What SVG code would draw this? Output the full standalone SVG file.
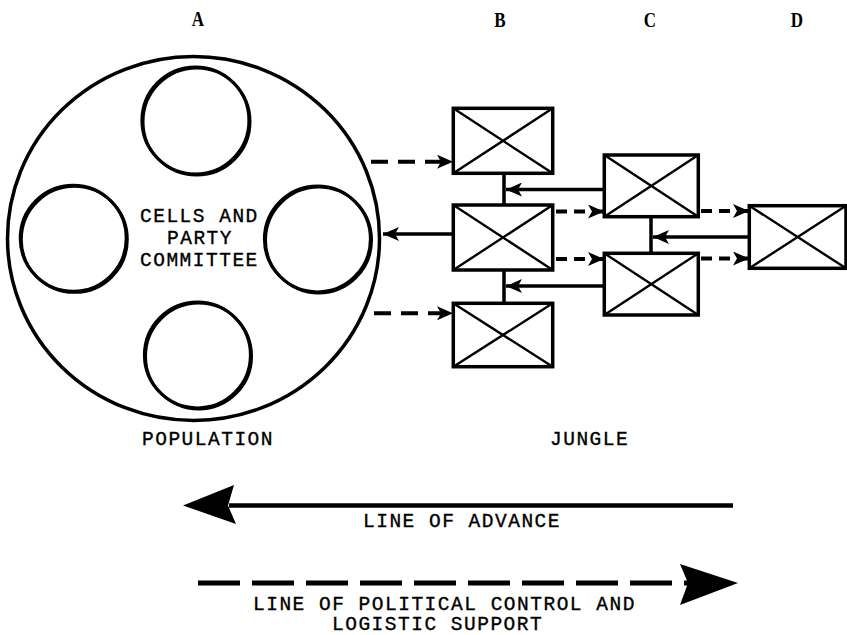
<svg xmlns="http://www.w3.org/2000/svg" width="847" height="635" viewBox="0 0 847 635">
  <style>
    .bg { fill: #fff; }
    .ring { fill: none; stroke: #000; stroke-width: 3.5; }
    .cell { fill: none; stroke: #000; stroke-width: 3.2; }
    .cell-sh { fill: none; stroke: #000; stroke-width: 2.6; }
    .box { fill: #fff; stroke: #000; stroke-width: 3.5; }
    .x { stroke: #000; stroke-width: 2.4; }
    .solid { fill: none; stroke: #000; stroke-width: 3.5; }
    .dash { fill: none; stroke: #000; stroke-width: 4; stroke-dasharray: 17 10; }
    .dash-s { fill: none; stroke: #000; stroke-width: 4; stroke-dasharray: 11 7; }
    .big-solid { fill: none; stroke: #000; stroke-width: 4.5; }
    .big-dash { fill: none; stroke: #000; stroke-width: 5; stroke-dasharray: 42 12; }
    .head { fill: #000; }
    .t { font-family: "Liberation Mono", "DejaVu Sans Mono", monospace; font-size: 19.5px; letter-spacing: 1.5px; fill: #000; stroke: #000; stroke-width: 0.35; }
    .col { font-family: "Liberation Serif", "Times New Roman", serif; font-weight: bold; font-size: 20px; fill: #000; }
  </style>
  <defs>
    <marker id="arrow" markerUnits="userSpaceOnUse" viewBox="0 0 16 14" refX="16" refY="7" markerWidth="16" markerHeight="14" orient="auto">
      <path class="head" d="M0,0 L16,7 L0,14 L4,7 Z"/>
    </marker>
  </defs>

  <rect class="bg" width="847" height="635"/>

  <!-- column headings -->
  <g id="headings">
    <text class="col" transform="translate(198,26) scale(0.85,1)" text-anchor="middle">A</text>
    <text class="col" transform="translate(500,27) scale(0.85,1)" text-anchor="middle">B</text>
    <text class="col" transform="translate(650,27) scale(0.85,1)" text-anchor="middle">C</text>
    <text class="col" transform="translate(797,27) scale(0.85,1)" text-anchor="middle">D</text>
  </g>

  <!-- population: ring of cells around the party committee -->
  <g id="population">
    <ellipse class="ring" cx="193.5" cy="238.5" rx="186" ry="182"/>
    <text class="t" x="142" y="445">POPULATION</text>
  </g>
  <g id="cell-top">
    <circle class="cell" cx="195.5" cy="120.5" r="53.5"/>
    <circle class="cell-sh" cx="196.7" cy="121.7" r="53.5"/>
  </g>
  <g id="cell-left">
    <circle class="cell" cx="73.3" cy="238.3" r="53"/>
    <circle class="cell-sh" cx="74.5" cy="239.5" r="53"/>
  </g>
  <g id="cell-right">
    <circle class="cell" cx="317.5" cy="239" r="53"/>
    <circle class="cell-sh" cx="318.7" cy="240.2" r="53"/>
  </g>
  <g id="cell-bottom">
    <circle class="cell" cx="197.5" cy="355" r="53"/>
    <circle class="cell-sh" cx="198.7" cy="356.2" r="53"/>
  </g>
  <g id="committee">
    <text class="t" x="140" y="222">CELLS AND</text>
    <text class="t" x="167" y="244">PARTY</text>
    <text class="t" x="140" y="266">COMMITTEE</text>
  </g>

  <!-- connectors -->
  <g id="connectors">
    <!-- column B spine -->
    <path class="solid" d="M504,173 V205 M504,270 V303"/>
    <!-- column C spine -->
    <path class="solid" d="M651,217 V253"/>
    <!-- advance: C to B, B to population, D to C -->
    <path class="solid" d="M604,189.5 H506" marker-end="url(#arrow)"/>
    <path class="solid" d="M604,286 H506" marker-end="url(#arrow)"/>
    <path class="solid" d="M453,234 H383" marker-end="url(#arrow)"/>
    <path class="solid" d="M749,237 H653" marker-end="url(#arrow)"/>
    <!-- control and support outward -->
    <path class="dash" d="M371,161.7 H453" marker-end="url(#arrow)"/>
    <path class="dash" d="M374,313.3 H453" marker-end="url(#arrow)"/>
    <path class="dash-s" d="M556,211.5 H604" marker-end="url(#arrow)"/>
    <path class="dash-s" d="M556,259 H604" marker-end="url(#arrow)"/>
    <path class="dash-s" d="M701,211 H749" marker-end="url(#arrow)"/>
    <path class="dash-s" d="M701,258.5 H749" marker-end="url(#arrow)"/>
  </g>

  <!-- units -->
  <g id="unit-b1">
    <rect class="box" x="453.3" y="108.3" width="99.4" height="65"/>
    <path class="x" d="M453.3,108.3 L552.7,173.3 M552.7,108.3 L453.3,173.3"/>
  </g>
  <g id="unit-b2">
    <rect class="box" x="453.3" y="205" width="99.4" height="65"/>
    <path class="x" d="M453.3,205 L552.7,270 M552.7,205 L453.3,270"/>
  </g>
  <g id="unit-b3">
    <rect class="box" x="453.3" y="303.3" width="99.4" height="63.4"/>
    <path class="x" d="M453.3,303.3 L552.7,366.7 M552.7,303.3 L453.3,366.7"/>
  </g>
  <g id="unit-c1">
    <rect class="box" x="604.3" y="155" width="94" height="61.7"/>
    <path class="x" d="M604.3,155 L698.3,216.7 M698.3,155 L604.3,216.7"/>
  </g>
  <g id="unit-c2">
    <rect class="box" x="604.3" y="253.3" width="94" height="61.7"/>
    <path class="x" d="M604.3,253.3 L698.3,315 M698.3,253.3 L604.3,315"/>
  </g>
  <g id="unit-d">
    <rect class="box" x="749.3" y="205.7" width="96.7" height="62.6"/>
    <path class="x" d="M749.3,205.7 L846,268.3 M846,205.7 L749.3,268.3"/>
  </g>

  <g id="jungle">
    <text class="t" x="550" y="445">JUNGLE</text>
  </g>

  <!-- legend -->
  <g id="legend-advance">
    <path class="big-solid" d="M229,505.5 H733"/>
    <path class="head" d="M183,505.5 L234,485 L228,505.5 L236,524 Z"/>
    <text class="t" x="363" y="527">LINE OF ADVANCE</text>
  </g>
  <g id="legend-control">
    <path class="big-dash" d="M198,583 H688"/>
    <path class="head" d="M738,583 L680,564 L688,583 L680,605 Z"/>
    <text class="t" x="253" y="610">LINE OF POLITICAL CONTROL AND</text>
    <text class="t" x="332" y="630">LOGISTIC SUPPORT</text>
  </g>
</svg>
